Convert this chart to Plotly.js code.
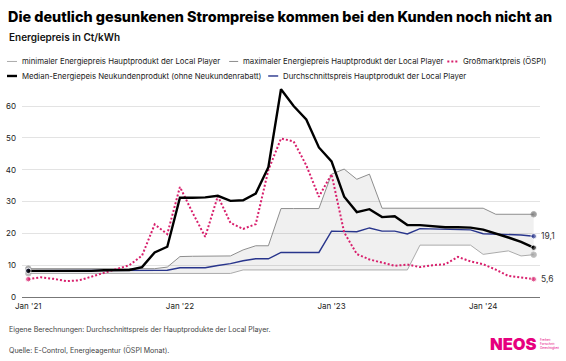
<!DOCTYPE html>
<html>
<head>
<meta charset="utf-8">
<script src="https://cdn.plot.ly/plotly-3.0.1.min.js"></script>
<style>
  html, body { margin: 0; padding: 0; background: #fff; }
  #chart { width: 566px; height: 361px; }
</style>
</head>
<body>
<div id="chart"></div>
<script>
// ---- data ----
const months = [
  '2021-01','2021-02','2021-03','2021-04','2021-05','2021-06','2021-07','2021-08','2021-09','2021-10','2021-11','2021-12',
  '2022-01','2022-02','2022-03','2022-04','2022-05','2022-06','2022-07','2022-08','2022-09','2022-10','2022-11','2022-12',
  '2023-01','2023-02','2023-03','2023-04','2023-05','2023-06','2023-07','2023-08','2023-09','2023-10','2023-11','2023-12',
  '2024-01','2024-02','2024-03','2024-04','2024-05'
];
const tickMonths = ['2021-01','2022-01','2023-01','2024-01'];
const tickLabels = ["Jan '21","Jan '22","Jan '23","Jan '24"];

const minPrice = [7.4,7.4,7.4,7.4,7.4,7.4,7.4,7.4,7.4,7.4,7.4,7.4,7.4,7.4,7.4,7.4,7.4,
  8.5,8.5,8.5,8.5,8.5,8.5,8.5,8.5,8.5,8.5,8.5,8.5,8.5,8.5,
  16.3,16.3,16.3,16.3,16.3,13.4,14.0,14.5,12.9,13.3];
const maxPrice = [8.9,8.9,8.9,8.9,8.9,8.9,8.9,8.9,8.9,8.9,8.9,9.4,
  12.7,12.8,12.8,12.9,12.9,14.8,16.1,16.1,27.8,27.8,27.8,27.8,
  38.6,40.2,37.0,38.6,27.9,27.9,27.9,27.9,27.9,27.9,27.9,27.9,27.9,26.0,26.0,26.0,26.0];
const ospi = [5.6,6.2,5.7,5.0,5.2,6.4,7.5,8.6,10.0,13.0,
  22.8,19.8,34.6,26.5,18.9,31.7,23.3,21.4,22.9,39.9,
  49.8,48.9,41.4,31.5,38.6,20.3,13.5,11.8,10.8,9.8,
  10.2,9.4,10.0,10.3,12.6,11.2,10.3,8.6,6.6,6.1,5.6];
const median = [8.2,8.2,8.1,8.1,8.1,8.2,8.4,8.4,8.5,9.4,
  14.0,15.8,31.2,31.2,31.3,31.8,30.2,30.4,32.5,40.8,
  65.3,60.0,55.8,47.0,42.6,31.5,26.7,27.6,25.1,25.4,
  22.6,22.6,22.2,21.9,21.9,21.8,21.2,20.0,18.7,17.3,15.5];
const average = [8.3,8.3,8.3,8.3,8.3,8.3,8.3,8.4,8.4,8.4,8.4,8.4,
  9.2,9.2,9.2,9.9,10.5,11.4,12.0,12.0,14.0,14.0,14.0,14.0,
  20.7,20.7,20.5,21.7,20.7,20.7,19.8,21.5,21.4,21.2,21.1,21.1,19.9,19.8,19.7,19.5,19.1];
const yTicks = [0,10,20,30,40,50,60];

const seriesNames = [
  'minimaler Energiepreis Hauptprodukt der Local Player',
  'maximaler Energiepreis Hauptprodukt der Local Player',
  'Großmarktpreis (ÖSPI)',
  'Median-Energiepeis Neukundenprodukt (ohne Neukundenrabatt)',
  'Durchschnittspreis Hauptprodukt der Local Player'
];

// ---- styling ----
const W = 566, H = 361;
const PL = 22, PR = 539.6, PT = 87, PB = 296.7;
const FONT = 'Inter, "Noto Sans", sans-serif';
const C = {
  min: '#ababab', minDot: '#9a9a9a',
  max: '#8e8e8e', maxDot: '#6f6f6f',
  pink: '#d81f6c', black: '#000000', blue: '#28358c',
  band: 'rgba(0,0,0,0.06)', text: '#222222'
};
const px = x => (x - PL) / (PR - PL);
const py = y => (PB - y) / (PB - PT);
const endSizes = (arr, s) => arr.map((v, i) => (i === 0 || i === arr.length - 1) ? s : 0);

const traces = [
  { x: months, y: minPrice, type: 'scatter', mode: 'lines+markers', name: seriesNames[0],
    line: { color: C.min, width: 1 }, marker: { color: C.minDot, size: endSizes(minPrice, 5.5) },
    hoverinfo: 'skip' },
  { x: months, y: maxPrice, type: 'scatter', mode: 'lines+markers', name: seriesNames[1],
    fill: 'tonexty', fillcolor: C.band,
    line: { color: C.max, width: 1 }, marker: { color: C.maxDot, size: endSizes(maxPrice, 5.5) },
    hoverinfo: 'skip' },
  { x: months, y: average, type: 'scatter', mode: 'lines+markers', name: seriesNames[4],
    line: { color: C.blue, width: 1.4 }, marker: { color: C.blue, size: endSizes(average, 5.5) },
    hoverinfo: 'skip' },
  { x: months, y: ospi, type: 'scatter', mode: 'lines+markers', name: seriesNames[2],
    line: { color: C.pink, width: 2, dash: '2px,2px' }, marker: { color: C.pink, size: endSizes(ospi, 5.5) },
    hoverinfo: 'skip' },
  { x: months, y: median, type: 'scatter', mode: 'lines+markers', name: seriesNames[3],
    line: { color: C.black, width: 2.4 }, marker: { color: C.black, size: endSizes(median, 5.5) },
    hoverinfo: 'skip' }
];

const fmt = v => String(v).replace('.', ',');
const last = months.length - 1;

const annotations = [
  { text: 'Energiepreis in Ct/kWh', xref: 'paper', yref: 'paper', x: px(7), y: py(37.5),
    xanchor: 'left', yanchor: 'middle', showarrow: false,
    font: { family: FONT, size: 10, color: '#111', weight: 600 } },
  // end value labels
  { text: fmt(average[last]), xref: 'x', yref: 'y', x: months[last], y: average[last],
    xanchor: 'left', yanchor: 'middle', xshift: 5, showarrow: false,
    font: { family: FONT, size: 8.5, color: '#333' } },
  { text: fmt(ospi[last]), xref: 'x', yref: 'y', x: months[last], y: ospi[last],
    xanchor: 'left', yanchor: 'middle', xshift: 5, showarrow: false,
    font: { family: FONT, size: 8.5, color: '#333' } },
  // footer
  { text: 'Eigene Berechnungen: Durchschnittspreis der Hauptprodukte der Local Player.',
    xref: 'paper', yref: 'paper', x: px(7), y: py(329), xanchor: 'left', yanchor: 'middle',
    showarrow: false, font: { family: FONT, size: 7.05, color: '#444' } },
  { text: 'Quelle: E-Control, Energieagentur (ÖSPI Monat).',
    xref: 'paper', yref: 'paper', x: px(7), y: py(350), xanchor: 'left', yanchor: 'middle',
    showarrow: false, font: { family: FONT, size: 7.05, color: '#444' } },
  // logo
  { text: 'NEOS', xref: 'paper', yref: 'paper', x: px(488), y: py(344), xanchor: 'left', yanchor: 'middle',
    showarrow: false, font: { family: FONT, size: 16.5, color: '#e6007e', weight: 900 } },
  { text: 'Freiheit<br>Fortschritt<br>Gerechtigkeit', xref: 'paper', yref: 'paper', x: px(538), y: py(344),
    xanchor: 'left', yanchor: 'middle', align: 'left', showarrow: false,
    font: { family: FONT, size: 3, color: '#e6007e' } }
];

// manual legend
const legendItems = [
  { name: seriesNames[0], x0: 7, x1: 17, tx: 20, y: 61.5, color: C.min, width: 1, dash: 'solid' },
  { name: seriesNames[1], x0: 229, x1: 238, tx: 241, y: 61.5, color: C.max, width: 1, dash: 'solid' },
  { name: seriesNames[2], x0: 447, x1: 457, tx: 461, y: 61.5, color: C.pink, width: 2, dash: '2px,2px' },
  { name: seriesNames[3], x0: 7, x1: 17, tx: 20.5, y: 76, color: C.black, width: 2.4, dash: 'solid' },
  { name: seriesNames[4], x0: 268, x1: 278, tx: 281, y: 76, color: C.blue, width: 1.4, dash: 'solid' }
];
const shapes = [];
legendItems.forEach(it => {
  shapes.push({ type: 'line', xref: 'paper', yref: 'paper', x0: px(it.x0), x1: px(it.x1), y0: py(it.y), y1: py(it.y),
    line: { color: it.color, width: it.width, dash: it.dash } });
  annotations.push({ text: it.name, xref: 'paper', yref: 'paper', x: px(it.tx), y: py(it.y),
    xanchor: 'left', yanchor: 'middle', showarrow: false,
    font: { family: FONT, size: 7.8, color: '#222' } });
});

const layout = {
  width: W, height: H, autosize: false,
  margin: { l: PL, r: W - PR, t: PT, b: H - PB, pad: 0 },
  paper_bgcolor: '#ffffff', plot_bgcolor: '#ffffff',
  showlegend: false,
  title: { text: 'Die deutlich gesunkenen Strompreise kommen bei den Kunden noch nicht an',
    xref: 'container', yref: 'container', x: 8 / W, xanchor: 'left', y: 1 - 17 / H, yanchor: 'middle',
    font: { family: FONT, size: 14.4, color: '#000', weight: 800 } },
  xaxis: {
    type: 'category', range: [-0.5, months.length - 0.5], fixedrange: true,
    tickmode: 'array', tickvals: tickMonths, ticktext: tickLabels,
    showgrid: false, zeroline: false, showline: false, ticks: '', ticklabelstandoff: 3,
    tickfont: { family: FONT, size: 8, color: '#222' }
  },
  yaxis: {
    range: [0, 66], fixedrange: true, tickmode: 'array', tickvals: yTicks,
    showgrid: true, gridcolor: '#e3e3e3', gridwidth: 1,
    zeroline: true, zerolinecolor: '#777', zerolinewidth: 1,
    showline: false, ticks: '', ticklabelstandoff: 5,
    tickfont: { family: FONT, size: 8, color: '#222' }
  },
  shapes: shapes,
  annotations: annotations
};

Plotly.newPlot('chart', traces, layout, { staticPlot: true, displayModeBar: false });
</script>
</body>
</html>
